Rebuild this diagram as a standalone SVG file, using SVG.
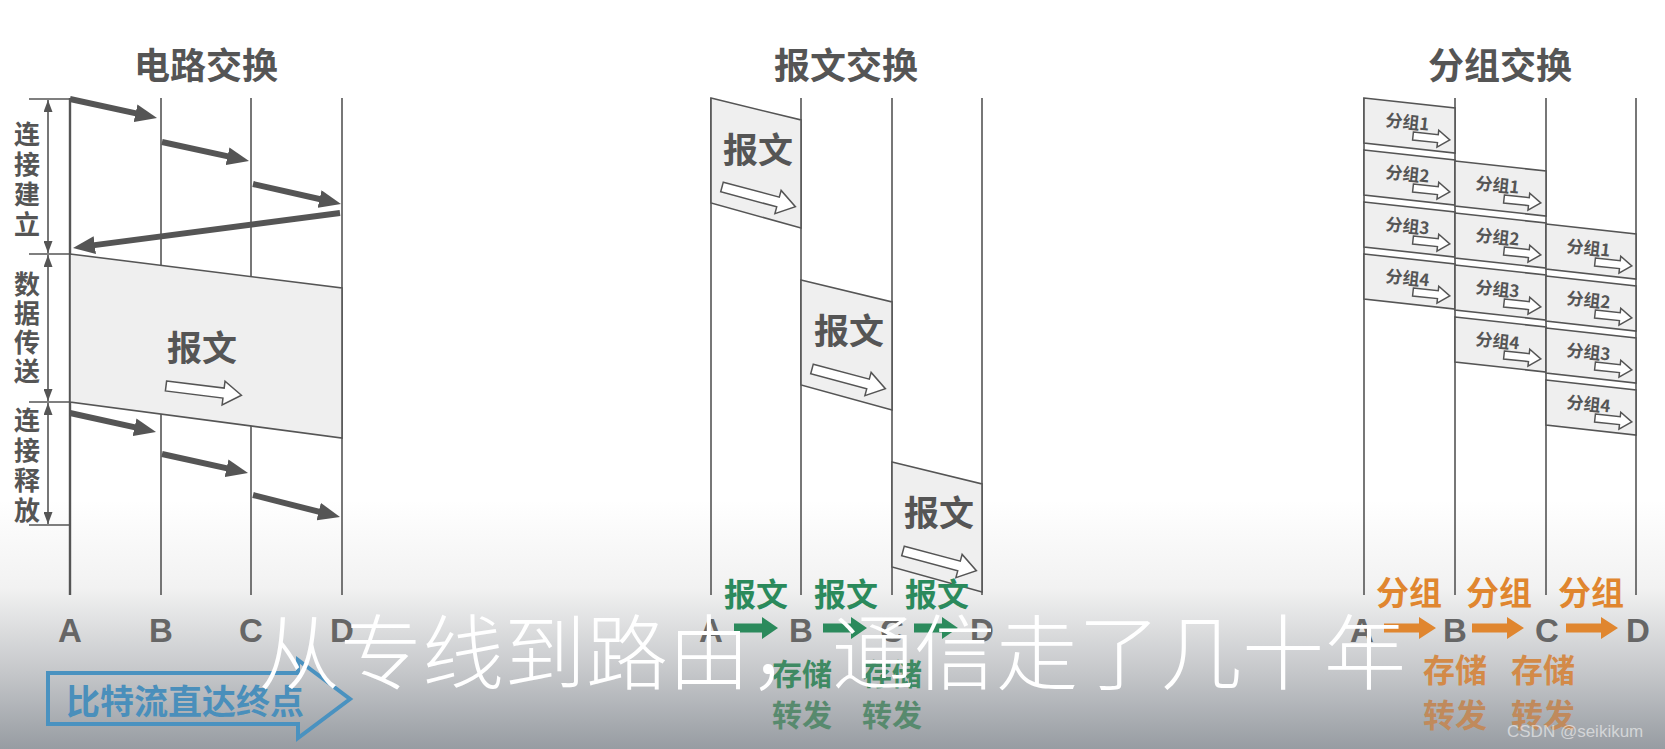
<svg xmlns="http://www.w3.org/2000/svg" xmlns:xlink="http://www.w3.org/1999/xlink" width="1665" height="749" viewBox="0 0 1665 749">
<defs>
<style>
.ln{stroke:#555;stroke-width:1.6;fill:none}
.t{font-family:"Noto Sans CJK SC","Noto Sans",sans-serif;font-weight:700;fill:#555}
.title{font-size:36px;text-anchor:middle}
.vl{font-size:26px;text-anchor:middle}
.big{font-size:35px;text-anchor:middle}
.pk{font-size:17px}
.box{fill:#efefef;stroke:#555;stroke-width:1.6}
.hol{fill:#fff;stroke:#555;stroke-width:1.5}
.sa{stroke:#555;stroke-width:6;fill:none;marker-end:url(#ah)}
.dim{stroke:#555;stroke-width:1.6;marker-start:url(#da);marker-end:url(#da)}
.node{font-family:"Liberation Sans",Arial,sans-serif;font-weight:700;font-size:33px;fill:#666;text-anchor:middle}
.lab{font-family:"Noto Sans CJK SC",sans-serif;font-weight:700;font-size:32px;text-anchor:middle}
</style>
<linearGradient id="bg" gradientUnits="userSpaceOnUse" x1="0" y1="500" x2="0" y2="749">
<stop offset="0" stop-color="#ffffff"/>
<stop offset="0.35" stop-color="#f2f2f2"/>
<stop offset="0.7" stop-color="#c4c6c9"/>
<stop offset="1" stop-color="#979ca2"/>
</linearGradient>
<marker id="ah" viewBox="0 0 22 18" refX="10" refY="9" markerWidth="22" markerHeight="18" markerUnits="userSpaceOnUse" orient="auto"><path d="M0,0 L22,9 L0,18 Z" fill="#555"/></marker>
<marker id="da" viewBox="0 0 12 9" refX="12" refY="4.5" markerWidth="12" markerHeight="9" markerUnits="userSpaceOnUse" orient="auto-start-reverse"><path d="M0,0 L12,4.5 L0,9 Z" fill="#555"/></marker>
<path id="hA" d="M0,-5 H58 V-12 L76,0 L58,12 V5 H0 Z"/>
<path id="hP" d="M0,-4 H25 V-8.5 L37,0 L25,8.5 V4 H0 Z"/>
<path id="gA" d="M0,-4.5 H28 V-11 L44,0 L28,11 V4.5 H0 Z"/>
<path id="oA" d="M0,-4.5 H35 V-11 L52,0 L35,11 V4.5 H0 Z"/>
</defs>

<rect x="0" y="0" width="1665" height="749" fill="url(#bg)"/>

<!-- ===== Circuit switching ===== -->
<g id="circuit">
<text class="t title" x="206" y="79">电路交换</text>
<g id="circuit-lines">
<line class="ln" x1="70" y1="98" x2="70" y2="595" style="stroke-width:2.4"/>
<line class="ln" x1="161" y1="98" x2="161" y2="595"/>
<line class="ln" x1="251" y1="98" x2="251" y2="595"/>
<line class="ln" x1="342" y1="98" x2="342" y2="595"/>
</g>
<g id="circuit-band">
<polygon class="box" points="70,254 342,288 342,438 70,402"/>
<text class="t big" x="202" y="361">报文</text>
<use xlink:href="#hA" class="hol" transform="translate(166,386) rotate(7)"/>
</g>
<g id="circuit-dims">
<line class="ln" x1="29" y1="99" x2="70" y2="99"/>
<line class="ln" x1="29" y1="254" x2="70" y2="254"/>
<line class="ln" x1="29" y1="402" x2="70" y2="402"/>
<line class="ln" x1="29" y1="525" x2="70" y2="525"/>
<line class="dim" x1="48" y1="100" x2="48" y2="253"/>
<line class="dim" x1="48" y1="255" x2="48" y2="401"/>
<line class="dim" x1="48" y1="403" x2="48" y2="524"/>
<text class="t vl" x="27" y="144">连</text>
<text class="t vl" x="27" y="174">接</text>
<text class="t vl" x="27" y="204">建</text>
<text class="t vl" x="27" y="234">立</text>
<text class="t vl" x="27" y="294">数</text>
<text class="t vl" x="27" y="323">据</text>
<text class="t vl" x="27" y="352">传</text>
<text class="t vl" x="27" y="381">送</text>
<text class="t vl" x="27" y="430">连</text>
<text class="t vl" x="27" y="460">接</text>
<text class="t vl" x="27" y="490">释</text>
<text class="t vl" x="27" y="520">放</text>
</g>
<g id="circuit-nodes">
<text class="node" x="70" y="642">A</text>
<text class="node" x="161" y="642">B</text>
<text class="node" x="251" y="642">C</text>
<text class="node" x="342" y="642">D</text>
</g>
<g id="bitstream">
<polygon points="48,673 298,673 298,660 350,699 298,738 298,724 48,724" fill="none" stroke="#4a92c0" stroke-width="4"/>
<text x="66" y="714" font-family="Noto Sans CJK SC,sans-serif" font-weight="700" font-size="34" fill="#4a8fbb">比特流直达终点</text>
</g>
</g>

<g id="connectors">
<line class="sa" x1="70" y1="99" x2="145.3" y2="115.4"/>
<line class="sa" x1="162" y1="142" x2="237.3" y2="158.4"/>
<line class="sa" x1="253" y1="184" x2="329.3" y2="201.3"/>
<line class="sa" x1="340" y1="213" x2="84.9" y2="246.4"/>
<line class="sa" x1="70" y1="413" x2="144.3" y2="429.4"/>
<line class="sa" x1="162" y1="454" x2="236.3" y2="470.4"/>
<line class="sa" x1="253" y1="495" x2="328.4" y2="514.1"/>
</g>

<!-- ===== Message switching ===== -->
<g id="message">
<text class="t title" x="846" y="79">报文交换</text>
<g id="message-lines">
<line class="ln" x1="711" y1="98" x2="711" y2="595"/>
<line class="ln" x1="801" y1="98" x2="801" y2="595"/>
<line class="ln" x1="892" y1="98" x2="892" y2="595"/>
<line class="ln" x1="982" y1="98" x2="982" y2="595"/>
</g>
<g id="msg1" transform="translate(711,98)">
<polygon class="box" points="0,0 90,22 90,130 0,105"/>
<text class="t big" x="47" y="65">报文</text>
<use xlink:href="#hA" class="hol" transform="translate(11,89) rotate(15)"/>
</g>
<g id="msg2" transform="translate(801,280)">
<polygon class="box" points="0,0 91,22 91,130 0,105"/>
<text class="t big" x="48" y="64">报文</text>
<use xlink:href="#hA" class="hol" transform="translate(11,89) rotate(15)"/>
</g>
<g id="msg3" transform="translate(892,462)">
<polygon class="box" points="0,0 90,22 90,130 0,105"/>
<text class="t big" x="47" y="64">报文</text>
<use xlink:href="#hA" class="hol" transform="translate(11,89) rotate(15)"/>
</g>
<g id="message-legend">
<text class="lab" x="756" y="606" fill="#2b8a5c">报文</text>
<text class="lab" x="846" y="606" fill="#2b8a5c">报文</text>
<text class="lab" x="937" y="606" fill="#2b8a5c">报文</text>
<text class="node" x="711" y="642">A</text>
<text class="node" x="801" y="642">B</text>
<text class="node" x="892" y="642">C</text>
<text class="node" x="982" y="642">D</text>
<use xlink:href="#gA" fill="#2b8a5c" transform="translate(734,628)"/>
<use xlink:href="#gA" fill="#2b8a5c" transform="translate(823,628)"/>
<use xlink:href="#gA" fill="#2b8a5c" transform="translate(914,628)"/>
<text class="lab" x="802" y="685" fill="#3f8a63" style="font-size:30px">存储</text>
<text class="lab" x="892" y="685" fill="#3f8a63" style="font-size:30px">存储</text>
<text class="lab" x="802" y="726" fill="#588a6e" style="font-size:30px">转发</text>
<text class="lab" x="892" y="726" fill="#588a6e" style="font-size:30px">转发</text>
</g>
</g>

<!-- ===== Packet switching ===== -->
<g id="packet">
<text class="t title" x="1500" y="79">分组交换</text>
<g id="packet-lines">
<line class="ln" x1="1364" y1="98" x2="1364" y2="595"/>
<line class="ln" x1="1455" y1="98" x2="1455" y2="595"/>
<line class="ln" x1="1546" y1="98" x2="1546" y2="595"/>
<line class="ln" x1="1636" y1="98" x2="1636" y2="595"/>
</g>
<g id="pA1" transform="translate(1364,98)"><polygon class="box" points="0,0 91,10 91,55 0,45"/><text class="t pk" transform="translate(21,28) rotate(6)">分组1</text><use xlink:href="#hP" class="hol" transform="translate(49,38) rotate(6)"/></g>
<g id="pA2" transform="translate(1364,150)"><polygon class="box" points="0,0 91,10 91,55 0,45"/><text class="t pk" transform="translate(21,28) rotate(6)">分组2</text><use xlink:href="#hP" class="hol" transform="translate(49,38) rotate(6)"/></g>
<g id="pA3" transform="translate(1364,202)"><polygon class="box" points="0,0 91,10 91,55 0,45"/><text class="t pk" transform="translate(21,28) rotate(6)">分组3</text><use xlink:href="#hP" class="hol" transform="translate(49,38) rotate(6)"/></g>
<g id="pA4" transform="translate(1364,254)"><polygon class="box" points="0,0 91,10 91,55 0,45"/><text class="t pk" transform="translate(21,28) rotate(6)">分组4</text><use xlink:href="#hP" class="hol" transform="translate(49,38) rotate(6)"/></g>
<g id="pB1" transform="translate(1455,161)"><polygon class="box" points="0,0 91,10 91,55 0,45"/><text class="t pk" transform="translate(20,28) rotate(6)">分组1</text><use xlink:href="#hP" class="hol" transform="translate(49,38) rotate(6)"/></g>
<g id="pB2" transform="translate(1455,213)"><polygon class="box" points="0,0 91,10 91,55 0,45"/><text class="t pk" transform="translate(20,28) rotate(6)">分组2</text><use xlink:href="#hP" class="hol" transform="translate(49,38) rotate(6)"/></g>
<g id="pB3" transform="translate(1455,265)"><polygon class="box" points="0,0 91,10 91,55 0,45"/><text class="t pk" transform="translate(20,28) rotate(6)">分组3</text><use xlink:href="#hP" class="hol" transform="translate(49,38) rotate(6)"/></g>
<g id="pB4" transform="translate(1455,317)"><polygon class="box" points="0,0 91,10 91,55 0,45"/><text class="t pk" transform="translate(20,28) rotate(6)">分组4</text><use xlink:href="#hP" class="hol" transform="translate(49,38) rotate(6)"/></g>
<g id="pC1" transform="translate(1546,224)"><polygon class="box" points="0,0 90,10 90,55 0,45"/><text class="t pk" transform="translate(20,28) rotate(6)">分组1</text><use xlink:href="#hP" class="hol" transform="translate(49,38) rotate(6)"/></g>
<g id="pC2" transform="translate(1546,276)"><polygon class="box" points="0,0 90,10 90,55 0,45"/><text class="t pk" transform="translate(20,28) rotate(6)">分组2</text><use xlink:href="#hP" class="hol" transform="translate(49,38) rotate(6)"/></g>
<g id="pC3" transform="translate(1546,328)"><polygon class="box" points="0,0 90,10 90,55 0,45"/><text class="t pk" transform="translate(20,28) rotate(6)">分组3</text><use xlink:href="#hP" class="hol" transform="translate(49,38) rotate(6)"/></g>
<g id="pC4" transform="translate(1546,380)"><polygon class="box" points="0,0 90,10 90,55 0,45"/><text class="t pk" transform="translate(20,28) rotate(6)">分组4</text><use xlink:href="#hP" class="hol" transform="translate(49,38) rotate(6)"/></g>
<g id="packet-legend">
<text class="lab" x="1409" y="605" fill="#e0862f" style="font-size:33px">分组</text>
<text class="lab" x="1499" y="605" fill="#e0862f" style="font-size:33px">分组</text>
<text class="lab" x="1591" y="605" fill="#e0862f" style="font-size:33px">分组</text>
<text class="node" x="1362" y="642">A</text>
<text class="node" x="1455" y="642">B</text>
<text class="node" x="1547" y="642">C</text>
<text class="node" x="1638" y="642">D</text>
<use xlink:href="#oA" fill="#e0862f" transform="translate(1384,628)"/>
<use xlink:href="#oA" fill="#e0862f" transform="translate(1472,628)"/>
<use xlink:href="#oA" fill="#e0862f" transform="translate(1566,628)"/>
<text class="lab" x="1455" y="682" fill="#d38a48" style="font-size:32px">存储</text>
<text class="lab" x="1543" y="682" fill="#d38a48" style="font-size:32px">存储</text>
<text class="lab" x="1455" y="727" fill="#c08a5c" style="font-size:32px">转发</text>
<text class="lab" x="1543" y="727" fill="#c08a5c" style="font-size:32px">转发</text>
</g>
</g>

<text x="1507" y="737" font-family="Liberation Sans,sans-serif" font-size="17" fill="#ffffff" fill-opacity="0.55">CSDN @seikikum</text>

<text id="subtitle" x="832" y="683" text-anchor="middle" font-family="Noto Sans CJK SC,sans-serif" font-weight="300" font-size="82" fill="#ffffff">从专线到路由，通信走了几十年</text>
</svg>
